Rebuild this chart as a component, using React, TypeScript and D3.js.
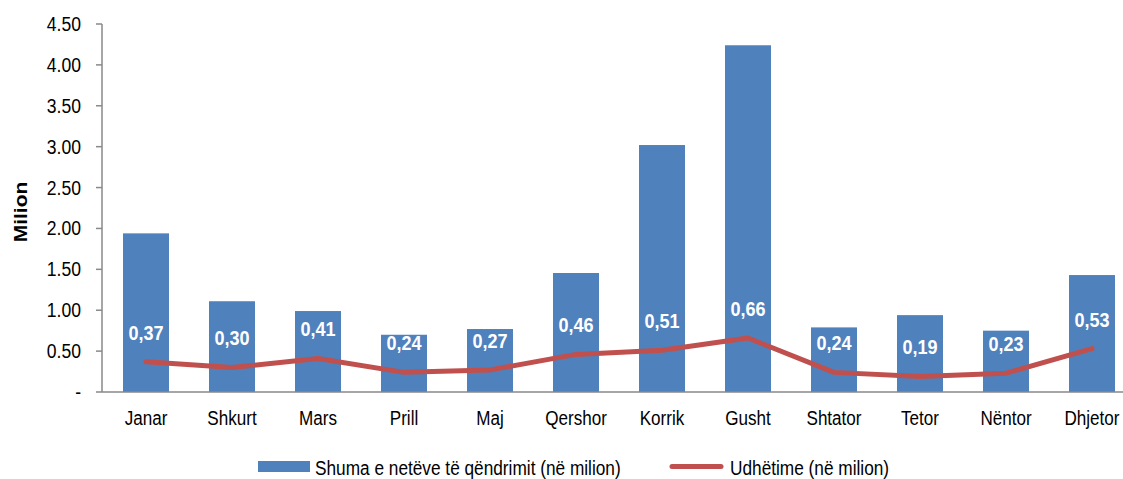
import React from "react";
import * as d3 from "d3";

const months = ["Janar", "Shkurt", "Mars", "Prill", "Maj", "Qershor", "Korrik", "Gusht", "Shtator", "Tetor", "Nëntor", "Dhjetor"];
const nightsValues = [1.94, 1.11, 0.99, 0.70, 0.77, 1.455, 3.02, 4.24, 0.79, 0.94, 0.75, 1.43];
const tripsValues = [0.37, 0.30, 0.41, 0.24, 0.27, 0.46, 0.51, 0.66, 0.24, 0.19, 0.23, 0.53];
const yTicks = [0, 0.5, 1, 1.5, 2, 2.5, 3, 3.5, 4, 4.5];
const legendBar = "Shuma e netëve të qëndrimit (në milion)";
const legendLine = "Udhëtime (në milion)";
const yTitle = "Milion";

const W = 1123;
const H = 479;
const BLUE = "#4F81BD";
const RED = "#C0504D";
const AXIS = "#898989";
const S = 0.9;
const FONT = "'Liberation Sans', Arial, sans-serif";

export default function App() {
  const x = d3.scaleBand<string>().domain(months).range([103, 1135]).paddingInner(0.465).paddingOuter(0.2325);
  const y = d3.scaleLinear().domain([0, 4.5]).range([392, 24]);
  const cx = (m: string) => (x(m) as number) + x.bandwidth() / 2;
  const line = d3
    .line<number>()
    .x((_, i) => cx(months[i]))
    .y((v) => y(v));

  return (
    <svg width={W} height={H} style={{ position: "absolute", left: 0, top: 0, background: "#fff" }} fontFamily={FONT}>
      {/* bars */}
      {months.map((m, i) => (
        <rect key={m} x={x(m)} y={y(nightsValues[i])} width={x.bandwidth()} height={y(0) - y(nightsValues[i])} fill={BLUE} />
      ))}
      {/* axes */}
      <line x1={102} x2={102} y1={y(4.5)} y2={y(0)} stroke={AXIS} strokeWidth={1.5} />
      <line x1={102} x2={1123} y1={y(0)} y2={y(0)} stroke={AXIS} strokeWidth={1.5} />
      {yTicks.map((t) => (
        <g key={t}>
          <line x1={96} x2={102} y1={y(t)} y2={y(t)} stroke={AXIS} strokeWidth={1.5} />
          <text
            transform={`translate(81,${y(t)}) scale(${S},1)`}
            dy="0.36em"
            textAnchor="end"
            fontSize={19.5}
            fill="#000"
          >
            {t === 0 ? "-" : t.toFixed(2)}
          </text>
        </g>
      ))}
      {months.map((m) => (
        <text key={m} transform={`translate(${cx(m)},425) scale(0.88,1)`} textAnchor="middle" fontSize={19.4} fill="#000">
          {m}
        </text>
      ))}
      {/* line */}
      <path d={line(tripsValues) || ""} fill="none" stroke={RED} strokeWidth={5} strokeLinejoin="round" strokeLinecap="round" />
      {/* data labels */}
      {months.map((m, i) => (
        <text
          key={m}
          transform={`translate(${cx(m)},${y(tripsValues[i]) - 22}) scale(0.86,1)`}
          textAnchor="middle"
          fontSize={21}
          fontWeight="bold"
          fill="#fff"
        >
          {tripsValues[i].toFixed(2).replace(".", ",")}
        </text>
      ))}
      {/* y title */}
      <text transform={`translate(27,212) scale(0.88,1) rotate(-90)`} textAnchor="middle" fontSize={21} fontWeight="bold" fill="#000">
        {yTitle}
      </text>
      {/* legend */}
      <rect x={258} y={461} width={52} height={11} fill={BLUE} />
      <text transform={`translate(315,475) scale(0.88,1)`} fontSize={19.6} fill="#000">
        {legendBar}
      </text>
      <line x1={672} x2={721} y1={466.5} y2={466.5} stroke={RED} strokeWidth={5} strokeLinecap="round" />
      <text transform={`translate(730,475) scale(0.88,1)`} fontSize={19.6} fill="#000">
        {legendLine}
      </text>
    </svg>
  );
}
